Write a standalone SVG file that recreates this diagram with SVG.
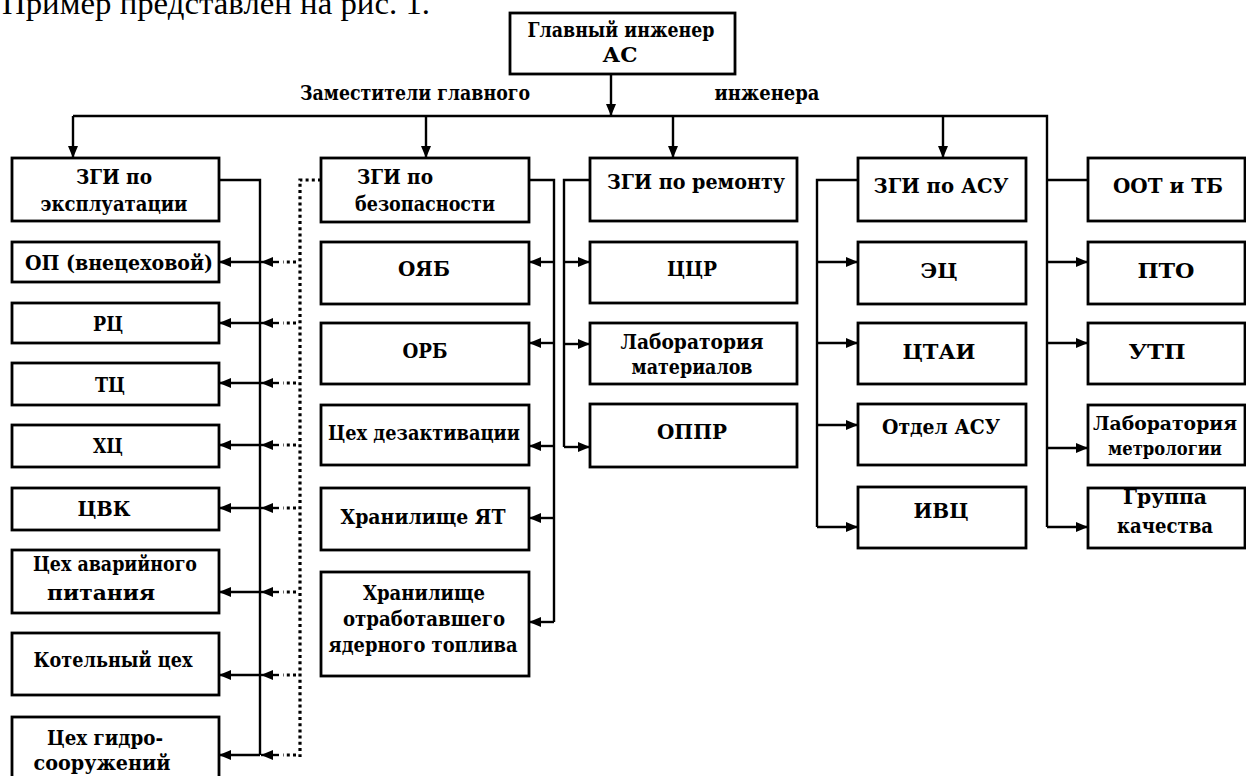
<svg xmlns="http://www.w3.org/2000/svg" width="1246" height="776" viewBox="0 0 1246 776">
<style>
.box{fill:#fff;stroke:#000;stroke-width:2.8}
.ln{fill:none;stroke:#000;stroke-width:2.4}
.dot{fill:none;stroke:#000;stroke-width:3.2;stroke-dasharray:3 3.2}
.t{font-family:"DejaVu Serif","Liberation Serif",serif;font-weight:bold;font-size:21px;fill:#000;text-anchor:middle}
.s{font-size:18px}
.title{font-family:"Liberation Serif","Times New Roman",serif;font-size:32px;fill:#000}
</style>
<defs>
<marker id="ah" viewBox="0 0 12 10" refX="12" refY="5" markerWidth="12" markerHeight="10" markerUnits="userSpaceOnUse" orient="auto"><path d="M0,0 L12,5 L0,10 z" fill="#000"/></marker>
</defs>
<rect width="1246" height="776" fill="#fff"/>
<text class="title" x="2" y="14" textLength="428" lengthAdjust="spacingAndGlyphs">Пример представлен на рис. 1.</text>

<g id="connectors">
<path class="ln" d="M611,74 V116" marker-end="url(#ah)"/>
<path class="ln" d="M73,116 H1047 V527"/>
<path class="ln" d="M73,116 V158" marker-end="url(#ah)"/>
<path class="ln" d="M426,116 V158" marker-end="url(#ah)"/>
<path class="ln" d="M673,116 V158" marker-end="url(#ah)"/>
<path class="ln" d="M943,116 V158" marker-end="url(#ah)"/>
<path class="ln" d="M219,180 H260 V755"/>
<path class="ln" d="M260,262 H219" marker-end="url(#ah)"/>
<path class="ln" d="M260,323 H219" marker-end="url(#ah)"/>
<path class="ln" d="M260,383 H219" marker-end="url(#ah)"/>
<path class="ln" d="M260,445 H219" marker-end="url(#ah)"/>
<path class="ln" d="M260,508 H219" marker-end="url(#ah)"/>
<path class="ln" d="M260,592 H219" marker-end="url(#ah)"/>
<path class="ln" d="M260,675 H219" marker-end="url(#ah)"/>
<path class="ln" d="M260,755 H219" marker-end="url(#ah)"/>
<path class="dot" d="M321,180 H300 V757"/>
<path class="dot" d="M296,262 H283"/><path class="ln" d="M279,262 H261" marker-end="url(#ah)"/>
<path class="dot" d="M296,323 H283"/><path class="ln" d="M279,323 H261" marker-end="url(#ah)"/>
<path class="dot" d="M296,383 H283"/><path class="ln" d="M279,383 H261" marker-end="url(#ah)"/>
<path class="dot" d="M296,445 H283"/><path class="ln" d="M279,445 H261" marker-end="url(#ah)"/>
<path class="dot" d="M296,508 H283"/><path class="ln" d="M279,508 H261" marker-end="url(#ah)"/>
<path class="dot" d="M296,592 H283"/><path class="ln" d="M279,592 H261" marker-end="url(#ah)"/>
<path class="dot" d="M296,675 H283"/><path class="ln" d="M279,675 H261" marker-end="url(#ah)"/>
<path class="dot" d="M296,755 H283"/><path class="ln" d="M279,755 H261" marker-end="url(#ah)"/>
<path class="ln" d="M529,180 H554 V622"/>
<path class="ln" d="M554,262 H529" marker-end="url(#ah)"/>
<path class="ln" d="M554,343 H529" marker-end="url(#ah)"/>
<path class="ln" d="M554,446 H529" marker-end="url(#ah)"/>
<path class="ln" d="M554,518 H529" marker-end="url(#ah)"/>
<path class="ln" d="M554,622 H529" marker-end="url(#ah)"/>
<path class="ln" d="M590,180 H564 V447"/>
<path class="ln" d="M564,262 H590" marker-end="url(#ah)"/>
<path class="ln" d="M564,344 H590" marker-end="url(#ah)"/>
<path class="ln" d="M564,447 H590" marker-end="url(#ah)"/>
<path class="ln" d="M858,180 H817 V527"/>
<path class="ln" d="M817,262 H858" marker-end="url(#ah)"/>
<path class="ln" d="M817,343 H858" marker-end="url(#ah)"/>
<path class="ln" d="M817,425 H858" marker-end="url(#ah)"/>
<path class="ln" d="M817,527 H858" marker-end="url(#ah)"/>
<path class="ln" d="M1047,180 H1088"/>
<path class="ln" d="M1047,262 H1088" marker-end="url(#ah)"/>
<path class="ln" d="M1047,343 H1088" marker-end="url(#ah)"/>
<path class="ln" d="M1047,448 H1088" marker-end="url(#ah)"/>
<path class="ln" d="M1047,527 H1088" marker-end="url(#ah)"/>
</g>

<g id="labels">
<text class="t" x="415" y="100" textLength="230" lengthAdjust="spacingAndGlyphs">Заместители главного</text>
<text class="t" x="767" y="100" textLength="105" lengthAdjust="spacingAndGlyphs">инженера</text>
</g>

<g id="chief"><rect class="box" x="510" y="13" width="225" height="61"/>
<text class="t" x="621" y="37" textLength="187" lengthAdjust="spacingAndGlyphs">Главный инженер</text>
<text class="t" x="620" y="62" textLength="35" lengthAdjust="spacingAndGlyphs">АС</text></g>

<g id="zgi-exp"><rect class="box" x="12" y="158" width="207" height="63"/>
<text class="t" x="114" y="184" textLength="76" lengthAdjust="spacingAndGlyphs">ЗГИ по</text>
<text class="t" x="114" y="211" textLength="147" lengthAdjust="spacingAndGlyphs">эксплуатации</text></g>
<g id="op"><rect class="box" x="12" y="242" width="207" height="40"/>
<text class="t" x="119" y="270" textLength="188" lengthAdjust="spacingAndGlyphs">ОП (внецеховой)</text></g>
<g id="rc"><rect class="box" x="12" y="303" width="207" height="40"/>
<text class="t" x="108" y="331" textLength="30" lengthAdjust="spacingAndGlyphs">РЦ</text></g>
<g id="tc"><rect class="box" x="12" y="363" width="207" height="42"/>
<text class="t" x="110" y="392" textLength="30" lengthAdjust="spacingAndGlyphs">ТЦ</text></g>
<g id="hc"><rect class="box" x="12" y="425" width="207" height="42"/>
<text class="t" x="108" y="453" textLength="30" lengthAdjust="spacingAndGlyphs">ХЦ</text></g>
<g id="cvk"><rect class="box" x="12" y="488" width="207" height="42"/>
<text class="t" x="104" y="516" textLength="53" lengthAdjust="spacingAndGlyphs">ЦВК</text></g>
<g id="avar"><rect class="box" x="12" y="550" width="207" height="63"/>
<text class="t" x="115" y="571" textLength="164" lengthAdjust="spacingAndGlyphs">Цех аварийного</text>
<text class="t" x="101" y="600" textLength="108" lengthAdjust="spacingAndGlyphs">питания</text></g>
<g id="kotel"><rect class="box" x="12" y="633" width="207" height="62"/>
<text class="t" x="113" y="667" textLength="159" lengthAdjust="spacingAndGlyphs">Котельный цех</text></g>
<g id="gidro"><rect class="box" x="12" y="717" width="207" height="66"/>
<text class="t" x="105" y="745" textLength="116" lengthAdjust="spacingAndGlyphs">Цех гидро-</text>
<text class="t" x="102" y="770" textLength="137" lengthAdjust="spacingAndGlyphs">сооружений</text></g>

<g id="zgi-safe"><rect class="box" x="321" y="158" width="208" height="64"/>
<text class="t" x="395" y="184" textLength="76" lengthAdjust="spacingAndGlyphs">ЗГИ по</text>
<text class="t" x="425" y="211" textLength="140" lengthAdjust="spacingAndGlyphs">безопасности</text></g>
<g id="oyab"><rect class="box" x="321" y="242" width="208" height="62"/>
<text class="t" x="424" y="276" textLength="52" lengthAdjust="spacingAndGlyphs">ОЯБ</text></g>
<g id="orb"><rect class="box" x="321" y="323" width="208" height="61"/>
<text class="t" x="425" y="358" textLength="45" lengthAdjust="spacingAndGlyphs">ОРБ</text></g>
<g id="dezakt"><rect class="box" x="321" y="405" width="208" height="60"/>
<text class="t" x="424" y="440" textLength="192" lengthAdjust="spacingAndGlyphs">Цех дезактивации</text></g>
<g id="yat"><rect class="box" x="321" y="488" width="208" height="62"/>
<text class="t" x="423" y="524" textLength="165" lengthAdjust="spacingAndGlyphs">Хранилище ЯТ</text></g>
<g id="oyat"><rect class="box" x="321" y="572" width="208" height="104"/>
<text class="t" x="424" y="600" textLength="122" lengthAdjust="spacingAndGlyphs">Хранилище</text>
<text class="t" x="424" y="626" textLength="162" lengthAdjust="spacingAndGlyphs">отработавшего</text>
<text class="t" x="423" y="652" textLength="189" lengthAdjust="spacingAndGlyphs">ядерного топлива</text></g>

<g id="zgi-rem"><rect class="box" x="590" y="158" width="207" height="63"/>
<text class="t" x="696" y="189" textLength="178" lengthAdjust="spacingAndGlyphs">ЗГИ по ремонту</text></g>
<g id="ccr"><rect class="box" x="590" y="242" width="207" height="61"/>
<text class="t" x="692" y="276" textLength="50" lengthAdjust="spacingAndGlyphs">ЦЦР</text></g>
<g id="labmat"><rect class="box" x="590" y="323" width="207" height="61"/>
<text class="t" x="692" y="349" textLength="143" lengthAdjust="spacingAndGlyphs">Лаборатория</text>
<text class="t" x="692" y="374" textLength="121" lengthAdjust="spacingAndGlyphs">материалов</text></g>
<g id="oppr"><rect class="box" x="590" y="404" width="207" height="63"/>
<text class="t" x="692" y="439" textLength="70" lengthAdjust="spacingAndGlyphs">ОППР</text></g>

<g id="zgi-asu"><rect class="box" x="858" y="158" width="168" height="63"/>
<text class="t" x="941" y="193" textLength="135" lengthAdjust="spacingAndGlyphs">ЗГИ по АСУ</text></g>
<g id="ec"><rect class="box" x="858" y="242" width="168" height="62"/>
<text class="t" x="939" y="278" textLength="37" lengthAdjust="spacingAndGlyphs">ЭЦ</text></g>
<g id="ctai"><rect class="box" x="858" y="323" width="168" height="61"/>
<text class="t" x="939" y="359" textLength="73" lengthAdjust="spacingAndGlyphs">ЦТАИ</text></g>
<g id="otdel-asu"><rect class="box" x="858" y="404" width="168" height="61"/>
<text class="t" x="941" y="434" textLength="118" lengthAdjust="spacingAndGlyphs">Отдел АСУ</text></g>
<g id="ivc"><rect class="box" x="858" y="487" width="168" height="61"/>
<text class="t" x="941" y="518" textLength="55" lengthAdjust="spacingAndGlyphs">ИВЦ</text></g>

<g id="oot"><rect class="box" x="1088" y="158" width="157" height="63"/>
<text class="t" x="1168" y="193" textLength="110" lengthAdjust="spacingAndGlyphs">ООТ и ТБ</text></g>
<g id="pto"><rect class="box" x="1088" y="242" width="157" height="62"/>
<text class="t" x="1166" y="278" textLength="57" lengthAdjust="spacingAndGlyphs">ПТО</text></g>
<g id="utp"><rect class="box" x="1088" y="323" width="157" height="61"/>
<text class="t" x="1157" y="359" textLength="57" lengthAdjust="spacingAndGlyphs">УТП</text></g>
<g id="labmetr"><rect class="box" x="1088" y="405" width="157" height="60"/>
<text class="t s" x="1165" y="430" textLength="144" lengthAdjust="spacingAndGlyphs">Лаборатория</text>
<text class="t s" x="1165" y="455" textLength="114" lengthAdjust="spacingAndGlyphs">метрологии</text></g>
<g id="quality"><rect class="box" x="1088" y="488" width="157" height="60"/>
<text class="t" x="1165" y="504" textLength="84" lengthAdjust="spacingAndGlyphs">Группа</text>
<text class="t" x="1165" y="533" textLength="96" lengthAdjust="spacingAndGlyphs">качества</text></g>
</svg>
